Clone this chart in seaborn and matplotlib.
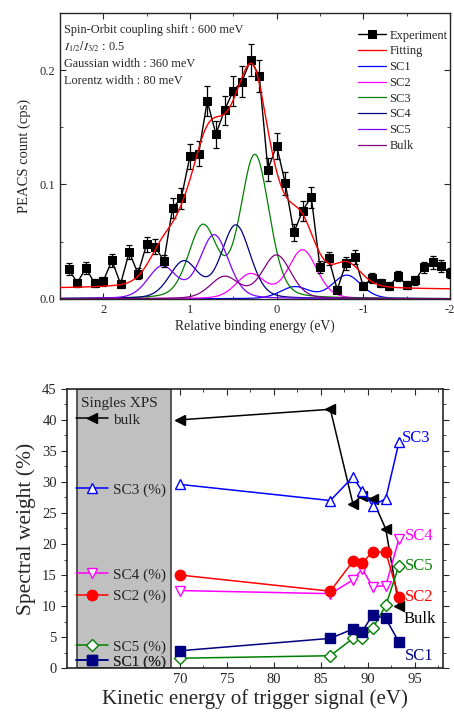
import numpy as np
import pandas as pd
import matplotlib
matplotlib.use("Agg")
import matplotlib.pyplot as plt
import seaborn as sns
from matplotlib.lines import Line2D
from matplotlib.ticker import MultipleLocator, FormatStrFormatter

# ---------- top panel: PEACS spectrum ----------
binding_energy = [2.4, 2.3, 2.2, 2.1, 2.0, 1.9, 1.8, 1.7, 1.6, 1.5, 1.4, 1.3, 1.2, 1.1, 1.0,
                  0.9, 0.8, 0.7, 0.6, 0.5, 0.4, 0.3, 0.2, 0.1, 0.0, -0.1, -0.2, -0.3, -0.4, -0.5,
                  -0.6, -0.7, -0.8, -0.9, -1.0, -1.1, -1.2, -1.3, -1.4, -1.5, -1.6, -1.7, -1.8, -1.9, -2.0]
counts = [0.026, 0.014, 0.027, 0.0135, 0.0155, 0.0335, 0.013, 0.041, 0.022, 0.0475, 0.0455, 0.033, 0.0795, 0.088, 0.1245,
          0.127, 0.173, 0.144, 0.165, 0.182, 0.190, 0.209, 0.195, 0.113, 0.134, 0.101, 0.058, 0.077, 0.089, 0.028,
          0.0355, 0.008, 0.031, 0.0365, 0.011, 0.018, 0.014, 0.011, 0.020, 0.012, 0.0163, 0.0275, 0.032, 0.029, 0.0225]
count_err = [0.0050, 0.0037, 0.0051, 0.0036, 0.0039, 0.0057, 0.0035, 0.0063, 0.0046, 0.0068, 0.0066, 0.0056, 0.0087, 0.0092, 0.0109,
             0.0110, 0.0129, 0.0118, 0.0126, 0.0132, 0.0135, 0.0142, 0.0137, 0.0104, 0.0113, 0.0099, 0.0075, 0.0086, 0.0092, 0.0052,
             0.0058, 0.0028, 0.0055, 0.0059, 0.0033, 0.0042, 0.0037, 0.0033, 0.0044, 0.0034, 0.0040, 0.0051, 0.0055, 0.0053, 0.0046]

# fitted components: 3/2 peak position and height (1/2 partner at +0.6 eV, half height)
comp_names = ["SC1", "SC2", "SC3", "SC4", "SC5", "Bulk"]
comp_pos = [-0.81, -0.30, 0.25, 0.47, 0.72, 0.00]
comp_height = [0.0205, 0.0425, 0.125, 0.064, 0.0555, 0.038]
comp_colors = ["#0000FF", "#FF00FF", "#008000", "#000080", "#8000FF", "#800080"]
so_shift = 0.6
so_ratio = 0.5
bg_left, bg_right = 0.0087, 0.0079

# ---------- bottom panel: spectral weights ----------
kinetic_energy = [70, 86, 88.4, 89.4, 90.5, 91.9, 93.3]
w_bulk = [40.0, 41.7, 26.5, 27.8, 27.2, 22.4, 10.0]
w_sc3 = [29.6, 27.0, 30.8, 28.5, 26.2, 27.3, 36.4]
w_sc4 = [12.5, 12.0, 14.2, 16.0, 13.1, 13.3, 20.8]
w_sc2 = [15.0, 12.4, 17.2, 17.0, 18.7, 18.7, 11.4]
w_sc5 = [1.6, 2.0, 4.8, 4.8, 6.4, 10.1, 16.5]
w_sc1 = [2.8, 4.8, 6.3, 5.9, 8.6, 8.0, 4.2]


def pseudo_voigt(x, x0, h, fwhm=0.39, eta=0.22):
    r = 4 * (x - x0) ** 2 / fwhm ** 2
    return h * (eta / (1 + r) + (1 - eta) * np.exp(-np.log(2) * r))


sns.set_style("ticks")
plt.rcParams["font.family"] = ["Liberation Serif", "DejaVu Serif"]
plt.rcParams["mathtext.fontset"] = "stix"
plt.rcParams["axes.unicode_minus"] = False
plt.rcParams["xtick.direction"] = "in"
plt.rcParams["ytick.direction"] = "in"

fig = plt.figure(figsize=(4.54, 7.2), dpi=100)
ax1 = fig.add_axes([0.132, 0.585, 0.859, 0.397])
ax2 = fig.add_axes([0.148, 0.072, 0.828, 0.388])

# components and fit
grid = np.linspace(2.5, -2.0, 600)
total = np.zeros_like(grid)
comp_curves = []
for pos, h in zip(comp_pos, comp_height):
    c = pseudo_voigt(grid, pos, h) + pseudo_voigt(grid, pos + so_shift, h * so_ratio)
    comp_curves.append(c)
    total += c
step = np.cumsum(total[::-1])[::-1]
background = bg_right + (bg_left - bg_right) * step / step[0]
fit = total + background

ax1.errorbar(binding_energy, counts, yerr=count_err, fmt="none", ecolor="black",
             elinewidth=0.9, capsize=2.5, capthick=0.9, zorder=3)
sns.lineplot(x=binding_energy, y=counts, ax=ax1, color="black", lw=1, marker="s",
             markersize=5.5, markeredgecolor="black", sort=False, label="Experiment", zorder=4)
sns.lineplot(x=grid, y=fit, ax=ax1, color="red", lw=1, sort=False, label="Fitting", zorder=5)
for name, col, curve in zip(comp_names, comp_colors, comp_curves):
    sns.lineplot(x=grid, y=curve, ax=ax1, color=col, lw=0.9, sort=False, label=name, zorder=2)

ax1.set_xlim(2.5, -2.0)
ax1.set_ylim(0, 0.25)
ax1.xaxis.set_major_locator(MultipleLocator(1))
ax1.xaxis.set_minor_locator(MultipleLocator(0.5))
ax1.xaxis.set_major_formatter(FormatStrFormatter("%d"))
ax1.yaxis.set_major_locator(MultipleLocator(0.1))
ax1.yaxis.set_minor_locator(MultipleLocator(0.05))
ax1.yaxis.set_major_formatter(FormatStrFormatter("%.1f"))
ax1.tick_params(which="both", top=True, right=True, labelsize=9, length=4)
ax1.tick_params(which="minor", length=2.5)
ax1.set_xlabel("Relative binding energy (eV)", fontsize=9.8, labelpad=3)
ax1.set_ylabel("PEACS count (cps)", fontsize=10.5, labelpad=6)
for s in ax1.spines.values():
    s.set_linewidth(1.0)

info = ["Spin-Orbit coupling shift : 600 meV",
        r"$I_{1/2}/I_{3/2}$ : 0.5",
        "Gaussian width : 360 meV",
        "Lorentz width : 80 meV"]
for i, line in enumerate(info):
    ax1.text(0.01, 0.942 - i * 0.06, line, transform=ax1.transAxes, fontsize=8.8,
             va="center", ha="left")

ax1.legend(loc="upper left", bbox_to_anchor=(0.742, 0.972), frameon=False, fontsize=9,
           handlelength=2.2, handletextpad=0.3, labelspacing=0.3, borderpad=0.2)

# bottom panel
ax2.axvspan(59, 69, facecolor="#C0C0C0", edgecolor="#404040", lw=1.2, zorder=0)

series = [
    ("bulk", w_bulk, "black", "<", "black", "Bulk"),
    ("SC3 (%)", w_sc3, "#0000FF", "^", "white", "SC3"),
    ("SC4 (%)", w_sc4, "#FF00FF", "v", "white", "SC4"),
    ("SC2 (%)", w_sc2, "#FF0000", "o", "#FF0000", "SC2"),
    ("SC5 (%)", w_sc5, "#008000", "D", "white", "SC5"),
    ("SC1 (%)", w_sc1, "#000080", "s", "#000080", "SC1"),
]
legend_y = [40.0, 28.7, 15.0, 11.6, 3.4, 1.0]
end_offsets = [(3, -9), (2, 3), (4, 2), (4, 0), (4, 0), (4, -10)]

for (lab, vals, col, mk, fc, short), ly, off in zip(series, legend_y, end_offsets):
    ms = 6 if mk == "D" else 7.5
    sns.lineplot(x=kinetic_energy, y=vals, ax=ax2, color=col, lw=1.1, marker=mk,
                 markersize=ms, markerfacecolor=fc, markeredgecolor=col, markeredgewidth=1.0,
                 zorder=3)
    handle = Line2D([], [], color=col, lw=1.1, marker=mk, markersize=ms,
                    markerfacecolor=fc, markeredgecolor=col)
    leg = ax2.legend(handles=[handle], labels=[lab], loc="center left",
                     bbox_to_anchor=(58.95, ly), bbox_transform=ax2.transData,
                     frameon=False, fontsize=11, handlelength=2.1, handletextpad=0.3,
                     borderpad=0, borderaxespad=0)
    ax2.add_artist(leg)
    ax2.annotate(short, xy=(kinetic_energy[-1], vals[-1]), xytext=off,
                 textcoords="offset points", color=col, fontsize=12,
                 ha="left", va="center")

ax2.text(63.6, 42.7, "Singles XPS", fontsize=11, ha="center", va="center")

ax2.set_xlim(58, 98)
ax2.set_ylim(0, 45)
ax2.set_xticks([70, 75, 80, 85, 90, 95])
ax2.set_xticks([72.5, 77.5, 82.5, 87.5, 92.5, 97.5], minor=True)
ax2.yaxis.set_major_locator(MultipleLocator(5))
ax2.yaxis.set_minor_locator(MultipleLocator(2.5))
ax2.tick_params(which="both", top=True, right=True, labelsize=10.5, length=4)
ax2.tick_params(axis="y", which="both", direction="out")
ax2.tick_params(which="minor", length=2.5)
ax2.set_xlabel("Kinetic energy of trigger signal (eV)", fontsize=15, labelpad=2)
ax2.set_ylabel("Spectral weight (%)", fontsize=15.5, labelpad=4)
for s in ax2.spines.values():
    s.set_linewidth(1.2)

fig.savefig("out.png", dpi=100)
